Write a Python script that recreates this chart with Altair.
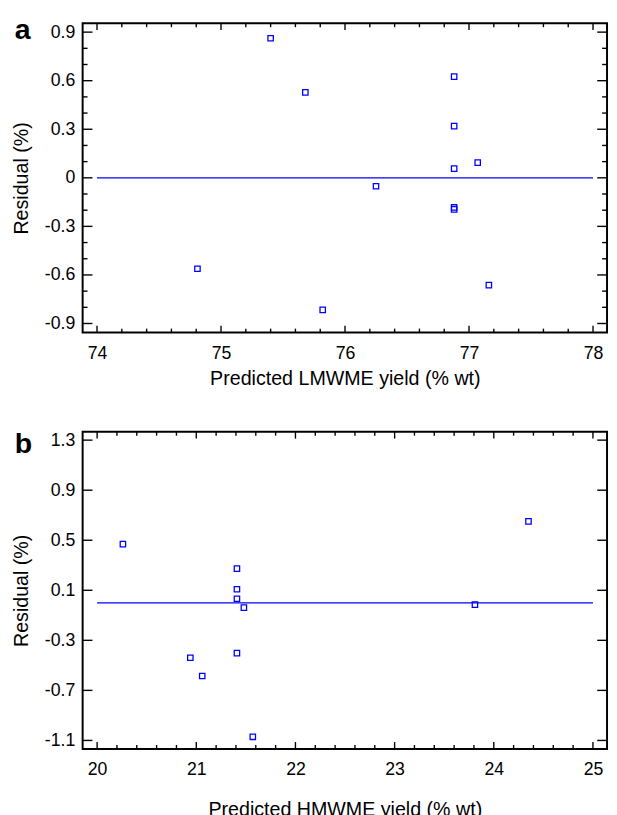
import altair as alt
import pandas as pd

FONT = "Liberation Sans"
BLUE = "#0000ff"

# ---- Panel a data (LMWME) ----
a_pred = [75.40, 75.68, 74.81, 75.82, 76.25, 76.88, 76.88, 76.88, 76.88, 76.88, 77.07, 77.16]
a_resid = [0.862, 0.528, -0.562, -0.816, -0.052, 0.625, 0.319, 0.057, -0.183, -0.195, 0.094, -0.663]
a_x_ticks = [74, 75, 76, 77, 78]
a_y_ticks = [-0.9, -0.6, -0.3, 0, 0.3, 0.6, 0.9]
a_line_x = [74, 78]

# ---- Panel b data (HMWME) ----
b_pred = [20.26, 21.41, 21.41, 21.41, 21.48, 21.41, 20.94, 21.06, 21.57, 23.81, 24.35]
b_resid = [0.469, 0.273, 0.108, 0.032, -0.039, -0.402, -0.439, -0.585, -1.071, -0.015, 0.651]
b_x_ticks = [20, 21, 22, 23, 24, 25]
b_y_ticks = [-1.1, -0.7, -0.3, 0.1, 0.5, 0.9, 1.3]
b_line_x = [20, 25]

# minor tick positions (axis scaffolding)
a_x_minor = [round(74 + 0.2 * i, 1) for i in range(21) if i % 5]
a_y_minor = [round(-0.9 + 0.1 * i, 1) for i in range(19) if i % 3]
b_x_minor = [round(20 + 0.2 * i, 1) for i in range(26) if i % 5]
b_y_minor = []

W = 534
LABEL_EXPR = "'' + datum.value"


def panel(pred, resid, xdom, ydom, xmaj, xmin, ymaj, ymin, line_x, label, label_y,
          xtitle, H, xtitle_pad):
    xs = alt.Scale(domain=xdom, nice=False, zero=False)
    ys = alt.Scale(domain=ydom, nice=False, zero=False)
    xax = alt.Axis(values=xmaj, title=xtitle, labelExpr=LABEL_EXPR, labelPadding=12,
                   titlePadding=xtitle_pad)
    yax = alt.Axis(values=ymaj, title="Residual (%)", labelExpr=LABEL_EXPR, labelPadding=8,
                   titlePadding=13)

    pts = alt.Chart(pd.DataFrame({"x": pred, "y": resid})).mark_point(
        shape="square", filled=False, size=30, strokeWidth=1.3, color=BLUE, opacity=1
    ).encode(
        x=alt.X("x:Q", scale=xs, axis=xax),
        y=alt.Y("y:Q", scale=ys, axis=yax),
    )

    zero = alt.Chart(pd.DataFrame({"x": line_x, "y": [0, 0]})).mark_line(
        color=BLUE, strokeWidth=1.3
    ).encode(
        x=alt.X("x:Q", scale=xs, axis=xax),
        y=alt.Y("y:Q", scale=ys, axis=yax),
    )

    layers = [zero, pts]

    def xticks(vals, L):
        if not vals:
            return []
        d = pd.DataFrame({"x": vals})
        out = []
        for y0, y1 in [(H, H - L), (0, L)]:
            out.append(alt.Chart(d).mark_rule(color="black", strokeWidth=1.4).encode(
                x=alt.X("x:Q", scale=xs, axis=xax),
                y=alt.value(y0), y2=alt.value(y1)))
        return out

    def yticks(vals, L):
        if not vals:
            return []
        d = pd.DataFrame({"y": vals})
        out = []
        for x0, x1 in [(0, L), (W, W - L)]:
            out.append(alt.Chart(d).mark_rule(color="black", strokeWidth=1.4).encode(
                y=alt.Y("y:Q", scale=ys, axis=yax),
                x=alt.value(x0), x2=alt.value(x1)))
        return out

    layers += xticks(xmaj, 7) + xticks(xmin, 4) + yticks(ymaj, 10) + yticks(ymin, 5)

    lab = alt.Chart(pd.DataFrame({"t": [label]})).mark_text(
        align="left", baseline="alphabetic", fontSize=29, fontWeight="bold",
        font=FONT, color="black"
    ).encode(text="t:N", x=alt.value(-69), y=alt.value(label_y))
    layers.append(lab)

    return alt.layer(*layers).properties(width=W, height=H)


pa = panel(a_pred, a_resid, [73.884, 78.113], [-0.956, 0.955], a_x_ticks, a_x_minor,
           a_y_ticks, a_y_minor, a_line_x, "a", 16, "Predicted LMWME yield (% wt)", 315, 7)
pb = panel(b_pred, b_resid, [19.854, 25.142], [-1.168, 1.367], b_x_ticks, b_x_minor,
           b_y_ticks, b_y_minor, b_line_x, "b", 22, "Predicted HMWME yield (% wt)", 323, 22)

chart = alt.vconcat(pa, pb, spacing=41).properties(
    padding={"left": 2, "top": 0, "right": 0, "bottom": 0}
).configure_view(
    stroke="black", strokeWidth=2
).configure_axis(
    domain=False, ticks=False, tickSize=0, grid=False,
    labelFont=FONT, labelFontSize=18, labelColor="black",
    titleFont=FONT, titleFontSize=20, titleFontWeight="normal", titleColor="black",
)

chart.save("out.html", embed_options={"renderer": "svg", "actions": False})
